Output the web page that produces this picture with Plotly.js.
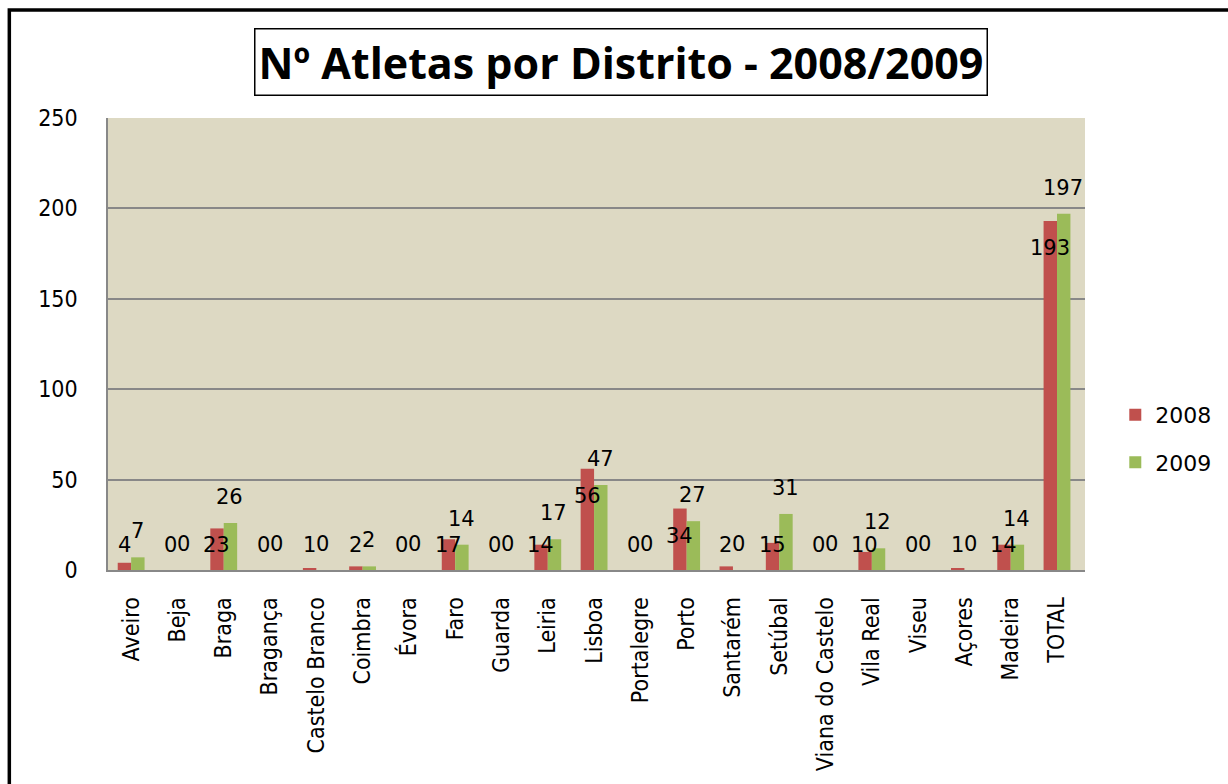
<!DOCTYPE html>
<html>
<head>
<meta charset="utf-8">
<script src="https://cdn.plot.ly/plotly-3.0.1.min.js"></script>
<style>
  html, body { margin: 0; padding: 0; background: #fff; }
  #chart { width: 1228px; height: 784px; }
</style>
</head>
<body>
<div id="chart"></div>
<script>
let distritos = ['Aveiro', 'Beja', 'Braga', 'Bragança', 'Castelo Branco', 'Coimbra', 'Évora', 'Faro',
  'Guarda', 'Leiria', 'Lisboa', 'Portalegre', 'Porto', 'Santarém', 'Setúbal', 'Viana do Castelo',
  'Vila Real', 'Viseu', 'Açores', 'Madeira', 'TOTAL']
let atletas2008 = [4, 0, 23, 0, 1, 2, 0, 17, 0, 14, 56, 0, 34, 2, 15, 0, 10, 0, 1, 14, 193]
let atletas2009 = [7, 0, 26, 0, 0, 2, 0, 14, 0, 17, 47, 0, 27, 0, 31, 0, 12, 0, 0, 14, 197]
let yTicks = [0, 50, 100, 150, 200, 250]

let narrow = 'DejaVu Sans Condensed, DejaVu Sans'
let labelFont = {family: 'DejaVu Sans', size: 21, color: '#000'}

let trace2008 = {
  x: distritos,
  y: atletas2008,
  name: '2008',
  legendgroup: 'a',
  type: 'bar',
  marker: {color: '#C0504D'},
  hoverinfo: 'x+y'
}

let trace2009 = {
  x: distritos,
  y: atletas2009,
  name: '2009',
  legendgroup: 'b',
  type: 'bar',
  marker: {color: '#9BBB59'},
  hoverinfo: 'x+y'
}

// data labels like the excel ones: 2008 sits a bit inside its bar, 2009 on top
let labels = []
distritos.forEach((d, i) => {
  labels.push({
    x: d, y: Math.max(atletas2008[i] - 15, 14), xref: 'x', yref: 'y',
    text: String(atletas2008[i]), showarrow: false,
    xshift: -7, yanchor: 'middle', font: labelFont
  })
  labels.push({
    x: d, y: atletas2009[i], xref: 'x', yref: 'y',
    text: String(atletas2009[i]), showarrow: false,
    xshift: 6, yshift: 12, yanchor: 'bottom', font: labelFont
  })
})

let layout = {
  width: 1228,
  height: 784,
  margin: {l: 108, r: 140, t: 118, b: 214},
  paper_bgcolor: '#fff',
  plot_bgcolor: '#DDD9C3',
  barmode: 'group',
  bargap: 0.42,
  bargroupgap: 0,
  showlegend: true,
  legend: {
    x: 1.031, y: 0.29, xanchor: 'left', yanchor: 'middle',
    traceorder: 'grouped',
    font: {family: 'DejaVu Sans', size: 22, color: '#000'},
    tracegroupgap: 16, itemwidth: 30
  },
  xaxis: {
    type: 'category',
    tickangle: -90,
    tickfont: {family: narrow, size: 23, color: '#000'},
    showline: true, linecolor: '#888', linewidth: 2,
    ticks: '', ticklabelstandoff: 16, automargin: false
  },
  yaxis: {
    range: [0, 250],
    tickvals: yTicks,
    ticktext: yTicks.map(String),
    tickfont: {family: narrow, size: 23, color: '#000'},
    gridcolor: '#888', gridwidth: 1.5,
    showline: true, linecolor: '#888', linewidth: 1.5,
    ticks: '', zeroline: false,
    ticklabelstandoff: 24, automargin: false
  },
  annotations: labels.concat([{
    text: '<b>Nº Atletas por Distrito - 2008/2009</b>',
    xref: 'paper', yref: 'paper',
    x: 0.5255, y: 1.125, xanchor: 'center', yanchor: 'middle',
    showarrow: false,
    font: {family: 'Open Sans', size: 43, color: '#000'},
    bordercolor: '#000', borderwidth: 1.5, borderpad: 3,
    bgcolor: '#fff'
  }]),
  shapes: [{
    type: 'rect', xref: 'paper', yref: 'paper',
    x0: -0.101, x1: 1.2, y0: -0.55, y1: 1.239,
    line: {color: '#000', width: 3.5}
  }]
}

Plotly.newPlot('chart', [trace2008, trace2009], layout, {displayModeBar: false})
</script>
</body>
</html>
